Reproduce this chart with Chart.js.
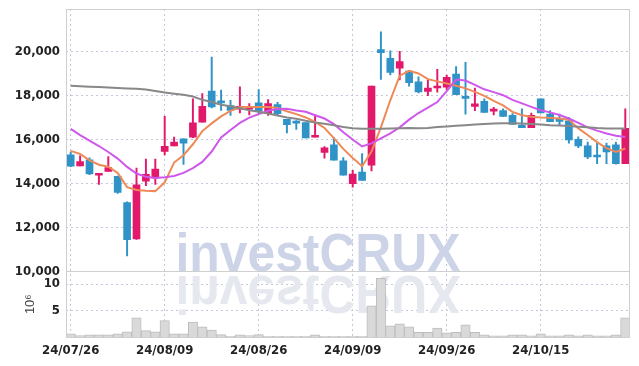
<!DOCTYPE html>
<html>
<head>
<meta charset="utf-8">
<script src="https://cdn.jsdelivr.net/npm/chart.js@4.4.1/dist/chart.umd.min.js"></script>
<style>
body { margin: 0; background: #fff; }
#wrap { width: 639px; height: 366px; }
</style>
</head>
<body>
<div id="wrap"><canvas id="chart" width="639" height="366"></canvas></div>
<script>
// trading days (yy/MM/dd)
var dates = ['24/07/26','24/07/29','24/07/30','24/07/31','24/08/01','24/08/02','24/08/05','24/08/06','24/08/07','24/08/08',
  '24/08/09','24/08/12','24/08/13','24/08/14','24/08/16','24/08/19','24/08/20','24/08/21','24/08/22','24/08/23',
  '24/08/26','24/08/27','24/08/28','24/08/29','24/08/30','24/09/02','24/09/03','24/09/04','24/09/05','24/09/06',
  '24/09/09','24/09/10','24/09/11','24/09/12','24/09/13','24/09/19','24/09/20','24/09/23','24/09/24','24/09/25',
  '24/09/26','24/09/27','24/09/30','24/10/02','24/10/04','24/10/07','24/10/08','24/10/10','24/10/11','24/10/14',
  '24/10/15','24/10/16','24/10/17','24/10/18','24/10/21','24/10/22','24/10/23','24/10/24','24/10/25','24/10/28'];

var openP = [15300,14790,15070,14370,14550,14320,13130,11480,14100,14240,
  15460,15710,16030,16100,16790,18200,17740,17540,17380,17380,
  17660,17170,17580,16910,16790,16770,16100,15410,15760,15030,
  13990,14520,14830,20080,19690,19240,19110,18620,18180,18340,
  18380,18970,17920,17500,17730,17290,17310,17100,16650,16530,
  17850,17150,16900,16850,16000,15710,15250,15710,15750,14900];
var highP = [15420,15250,15160,14460,15220,14330,13160,14700,15110,15110,
  17050,16110,16030,17850,18080,19740,18240,17780,18390,17630,
  18270,17810,17690,16910,16860,16770,17120,15670,16100,15180,
  14600,15360,18420,20890,20030,20000,19110,18850,18700,19190,
  18920,19310,19510,18340,17850,17460,17390,17170,17390,17200,
  17850,17310,17150,17000,16120,15880,15830,15830,15880,17390];
var lowP = [14760,14790,14400,13960,14550,13540,10700,11450,13900,13960,
  15300,15710,14860,16080,16790,17430,17320,17090,17200,17120,
  17170,17090,17090,16300,16450,16070,16100,15150,15060,14370,
  13830,14140,14570,18730,18930,18700,18420,18110,17990,18150,
  18260,18040,17150,17310,17230,17120,17050,16680,16530,16530,
  17200,16810,16650,15830,15620,15130,14900,14900,14880,14900];
var closeP = [14780,14990,14430,14460,14720,13590,11440,13940,14410,14650,
  15690,15880,15830,16760,17510,17480,17660,17320,17510,17510,
  17280,17630,17170,16670,16740,16070,16140,15620,15060,14370,
  14430,14140,18420,19950,19050,19540,18580,18160,18340,18420,
  18820,18040,17870,17620,17230,17360,17050,16680,16530,17100,
  17200,16810,16820,15980,15710,15200,15200,15430,14900,16510];

// moving averages
var maShort = [15480,15340,15050,14850,14760,14480,13830,13700,13670,13650,
  14050,14950,15280,15780,16380,16730,17050,17300,17470,17480,
  17480,17470,17430,17280,17150,17000,16800,16520,16060,15570,
  15160,14780,15450,16550,17780,18900,19120,19000,18740,18640,
  18540,18440,18320,18160,17980,17750,17550,17250,17100,17030,
  17000,16980,16950,16900,16500,16200,15880,15600,15430,15590];
var maMid = [16480,16200,15950,15700,15430,15130,14750,14450,14300,14250,
  14280,14340,14480,14700,14980,15450,16090,16430,16750,16990,
  17150,17300,17380,17390,17320,17260,17100,16950,16700,16330,
  16000,15680,15820,16050,16280,16550,16900,17200,17450,17700,
  18200,18720,18680,18480,18280,18150,18010,17800,17640,17480,
  17330,17230,17110,16950,16750,16550,16400,16270,16170,16110];
var maLong = [18436,18420,18400,18380,18360,18340,18320,18300,18270,18200,
  18130,18080,18030,17950,17800,17700,17580,17510,17420,17330,
  17260,17180,17090,17000,16940,16850,16770,16710,16640,16570,
  16510,16490,16490,16490,16500,16510,16520,16510,16520,16560,
  16590,16620,16650,16680,16700,16720,16730,16730,16720,16700,
  16680,16650,16630,16610,16580,16550,16520,16500,16500,16500];

// volume, millions of shares
var volume = [0.6,0.25,0.4,0.4,0.4,0.6,1.0,3.6,1.2,1.0,
  3.1,0.6,0.6,2.8,1.9,1.3,0.45,0.15,0.4,0.25,
  0.45,0.15,0.15,0.15,0.15,0.15,0.4,0.15,0.15,0.15,
  0.15,0.15,5.9,11.1,2.1,2.5,1.9,0.9,0.9,1.7,
  0.8,0.9,2.3,0.9,0.4,0.2,0.2,0.4,0.4,0.2,
  0.6,0.2,0.2,0.4,0.2,0.4,0.2,0.2,0.4,3.6];

var priceTicks = [10000, 12000, 14000, 16000, 18000, 20000];
var volumeTicks = [5, 10];

var upColor = '#e2196b';
var downColor = '#2f93c7';
var candleColors = [];
var wicks = [];
var bodies = [];
for (var i = 0; i < dates.length; i++) {
  candleColors.push(closeP[i] >= openP[i] ? upColor : downColor);
  wicks.push([lowP[i], highP[i]]);
  bodies.push([openP[i], closeP[i]]);
}

var tickFont = { family: '"DejaVu Sans Condensed", sans-serif', size: 13, weight: 'bold' };
var gridColor = '#c4c8da';

var watermark = {
  id: 'watermark',
  beforeDatasetsDraw: function(chart) {
    var ctx = chart.ctx;
    var base = chart.scales.y.bottom;
    ctx.save();
    ctx.font = 'bold 53px "Liberation Sans", sans-serif';
    var w = ctx.measureText('investCRUX').width;
    ctx.translate(318, base);
    ctx.scale(285 / w, 1);
    ctx.textAlign = 'center';
    ctx.fillStyle = '#cdd4e8';
    ctx.fillText('investCRUX', 0, 0);
    // reflection
    ctx.scale(1, -1);
    ctx.fillStyle = '#e6e8f0';
    ctx.fillText('investCRUX', 0, -5);
    ctx.restore();
  }
};

var frame = {
  id: 'frame',
  afterDraw: function(chart) {
    var ctx = chart.ctx, a = chart.chartArea;
    var sep = chart.scales.yv.top;
    ctx.save();
    ctx.strokeStyle = '#cfcfcf';
    ctx.lineWidth = 1;
    ctx.strokeRect(a.left + 0.5, a.top + 0.5, a.right - a.left - 1, a.bottom - a.top);
    ctx.beginPath();
    ctx.moveTo(a.left, Math.round(sep) + 0.5);
    ctx.lineTo(a.right, Math.round(sep) + 0.5);
    ctx.stroke();
    ctx.restore();
  }
};

function fixY(s) {
  s.width = 66;
  s.paddingTop = 0;
  s.paddingBottom = 0;
}

new Chart(document.getElementById('chart'), {
  type: 'bar',
  data: {
    labels: dates,
    datasets: [
      { type: 'line', data: maLong, borderColor: '#888888', borderWidth: 2, pointRadius: 0, yAxisID: 'y', order: 0 },
      { type: 'line', data: maMid, borderColor: '#cf58ec', borderWidth: 2, pointRadius: 0, yAxisID: 'y', order: 0 },
      { type: 'line', data: maShort, borderColor: '#ee8a58', borderWidth: 2, pointRadius: 0, yAxisID: 'y', order: 0 },
      { data: bodies, backgroundColor: candleColors, barThickness: 7, minBarLength: 2, grouped: false, yAxisID: 'y', order: 1 },
      { data: wicks, backgroundColor: candleColors, barThickness: 1.3, grouped: false, yAxisID: 'y', order: 2 },
      { data: volume, backgroundColor: '#d9d9d9', borderColor: '#bdbdbd', borderWidth: 1,
        barPercentage: 1, categoryPercentage: 1, grouped: false, yAxisID: 'yv', order: 3 }
    ]
  },
  options: {
    responsive: false,
    animation: false,
    layout: { padding: { top: 9, right: 9, left: 0, bottom: 0 } },
    plugins: { legend: { display: false }, tooltip: { enabled: false } },
    scales: {
      x: {
        offset: true,
        grid: { offset: false, color: gridColor, drawTicks: false },
        border: { display: false, dash: [2, 3] },
        ticks: {
          autoSkip: false, maxRotation: 0, padding: 6, color: '#222', font: tickFont,
          callback: function(v, i) { return i % 10 === 0 ? this.getLabelForValue(v) : null; }
        },
        afterFit: function(s) { s.height = 29; s.paddingLeft = 0; s.paddingRight = 0; }
      },
      yv: {
        position: 'left', stack: 'p', stackWeight: 1,
        min: 0, max: 12.4,
        grid: { color: gridColor, drawTicks: false },
        border: { display: false, dash: [2, 3] },
        ticks: { autoSkip: false, padding: 6, color: '#222', font: tickFont },
        afterBuildTicks: function(s) { s.ticks = volumeTicks.map(function(v) { return { value: v }; }); },
        title: { display: true, text: '10⁶', color: '#444',
          font: { family: '"Liberation Sans", sans-serif', size: 13 }, padding: { top: 23, bottom: 0 } },
        afterFit: fixY
      },
      y: {
        position: 'left', stack: 'p', stackWeight: 4,
        min: 10000, max: 21930,
        grid: { color: gridColor, drawTicks: false },
        border: { display: false, dash: [2, 3] },
        ticks: {
          autoSkip: false, padding: 6, color: '#222', font: tickFont,
          callback: function(v) { return v.toLocaleString('en-US'); }
        },
        afterBuildTicks: function(s) { s.ticks = priceTicks.map(function(v) { return { value: v }; }); },
        afterFit: fixY
      }
    }
  },
  plugins: [watermark, frame]
});
</script>
</body>
</html>
